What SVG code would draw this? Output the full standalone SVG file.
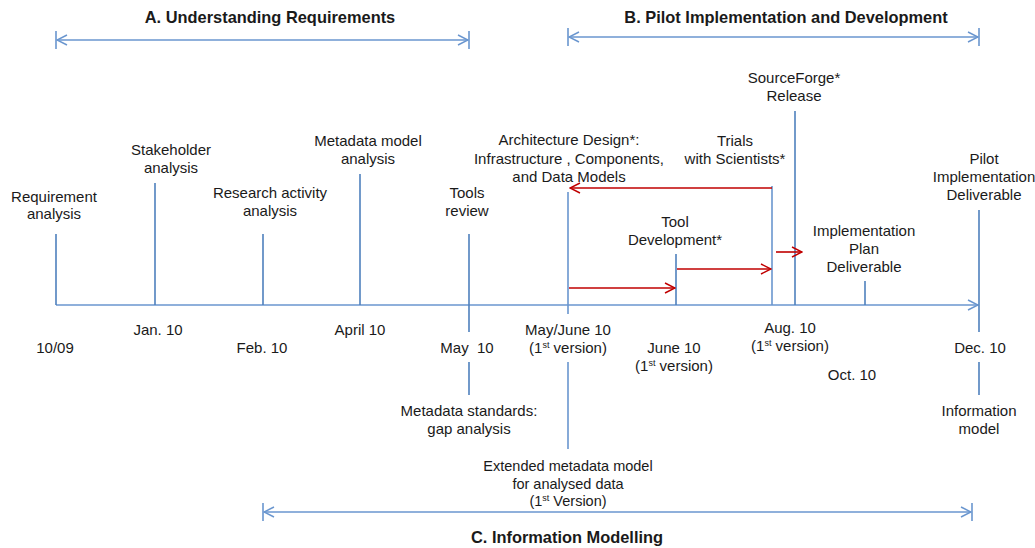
<svg xmlns="http://www.w3.org/2000/svg" width="1035" height="548" viewBox="0 0 1035 548">
<style>
text{font-family:"Liberation Sans",Arial,sans-serif;font-size:15px;fill:#1a1a1a;text-anchor:middle}
.t{font-weight:bold;font-size:16.4px}
.e{font-size:14.5px}
.b{stroke:#4f81bd;stroke-width:1.6;fill:none}
.lb{stroke:#6a96cf;stroke-width:1.6;fill:none}
.r{stroke:#c00000;stroke-width:1.6;fill:none}
.s{font-size:9px}
</style>
<defs>
<marker id="ab" viewBox="0 0 12 12" refX="11" refY="6" markerWidth="12" markerHeight="12" markerUnits="userSpaceOnUse" orient="auto-start-reverse"><path d="M1,1 L11,6 L1,11" fill="none" stroke="#6a96cf" stroke-width="1.5"/></marker>
<marker id="ar" viewBox="0 0 12 12" refX="11" refY="6" markerWidth="12" markerHeight="12" markerUnits="userSpaceOnUse" orient="auto-start-reverse"><path d="M1,1 L11,6 L1,11" fill="none" stroke="#c00000" stroke-width="1.5"/></marker>
</defs>
<g id="connectors">
<path class="lb" d="M56,31V49M469,31V49"/>
<line class="lb" x1="57" y1="40" x2="468" y2="40" marker-start="url(#ab)" marker-end="url(#ab)"/>
<path class="lb" d="M568,28V46M979,28V46"/>
<line class="lb" x1="569" y1="37" x2="978" y2="37" marker-start="url(#ab)" marker-end="url(#ab)"/>
<path class="lb" d="M263,503V521M972,503V521"/>
<line class="lb" x1="264" y1="512" x2="971" y2="512" marker-start="url(#ab)" marker-end="url(#ab)"/>
<line class="lb" x1="56" y1="305" x2="978" y2="305" marker-end="url(#ab)"/>
<path class="b" d="M56,234V305M155,183V305M263,234V305M360,174V305"/>
<path class="b" d="M469,234V332M469,362V395"/>
<path class="lb" d="M568,192V314M568,362V449"/>
<path class="b" d="M676,254V305"/>
<path class="lb" d="M772,186V305"/>
<path class="b" d="M795,111V305"/>
<path class="b" d="M865,281V305"/>
<path class="b" d="M979,210V332M979,362V395"/>
<line class="r" x1="772" y1="188" x2="570" y2="188" marker-end="url(#ar)"/>
<line class="r" x1="569" y1="288" x2="675" y2="288" marker-end="url(#ar)"/>
<line class="r" x1="677" y1="269" x2="771" y2="269" marker-end="url(#ar)"/>
<line class="r" x1="776" y1="252" x2="802" y2="252" marker-end="url(#ar)"/>
</g>
<g id="phaseA"><text class="t" x="270" y="23">A. Understanding Requirements</text></g>
<g id="phaseB"><text class="t" x="786" y="23">B. Pilot Implementation and Development</text></g>
<g id="phaseC"><text class="t" x="567" y="543">C. Information Modelling</text></g>
<g id="requirement"><text x="54" y="202">Requirement</text><text x="54" y="219">analysis</text><text x="55" y="353">10/09</text></g>
<g id="stakeholder"><text x="171" y="155">Stakeholder</text><text x="171" y="173">analysis</text><text x="158" y="335">Jan. 10</text></g>
<g id="research"><text x="270" y="198">Research activity</text><text x="270" y="216">analysis</text><text x="262" y="353">Feb. 10</text></g>
<g id="metadatamodel"><text x="368" y="146">Metadata model</text><text x="368" y="164">analysis</text><text x="360" y="335">April 10</text></g>
<g id="tools"><text x="467" y="198">Tools</text><text x="467" y="216">review</text><text x="467" y="353" xml:space="preserve">May  10</text><text x="469" y="416">Metadata standards:</text><text x="469" y="434">gap analysis</text></g>
<g id="architecture"><text x="569" y="145">Architecture Design*:</text><text x="569" y="164">Infrastructure , Components,</text><text x="569" y="182">and Data Models</text><text x="568" y="335">May/June 10</text><text x="568" y="353">(1<tspan class="s" dy="-5">st</tspan><tspan dy="5"> version)</tspan></text><text class="e" x="568" y="471">Extended metadata model</text><text class="e" x="568" y="489">for analysed data</text><text class="e" x="568" y="506">(1<tspan class="s" dy="-5">st</tspan><tspan dy="5"> Version)</tspan></text></g>
<g id="trials"><text x="735" y="146">Trials</text><text x="735" y="164">with Scientists*</text></g>
<g id="sourceforge"><text x="794" y="83">SourceForge*</text><text x="794" y="101">Release</text><text x="790" y="333">Aug. 10</text><text x="790" y="351">(1<tspan class="s" dy="-5">st</tspan><tspan dy="5"> version)</tspan></text></g>
<g id="tooldev"><text x="675" y="227">Tool</text><text x="675" y="245">Development*</text><text x="674" y="353">June 10</text><text x="674" y="371">(1<tspan class="s" dy="-5">st</tspan><tspan dy="5"> version)</tspan></text></g>
<g id="implplan"><text x="864" y="236">Implementation</text><text x="864" y="254">Plan</text><text x="864" y="272">Deliverable</text><text x="852" y="380">Oct. 10</text></g>
<g id="pilot"><text x="984" y="164">Pilot</text><text x="984" y="182">Implementation</text><text x="984" y="200">Deliverable</text><text x="980" y="353">Dec. 10</text><text x="979" y="416">Information</text><text x="979" y="434">model</text></g>
</svg>
